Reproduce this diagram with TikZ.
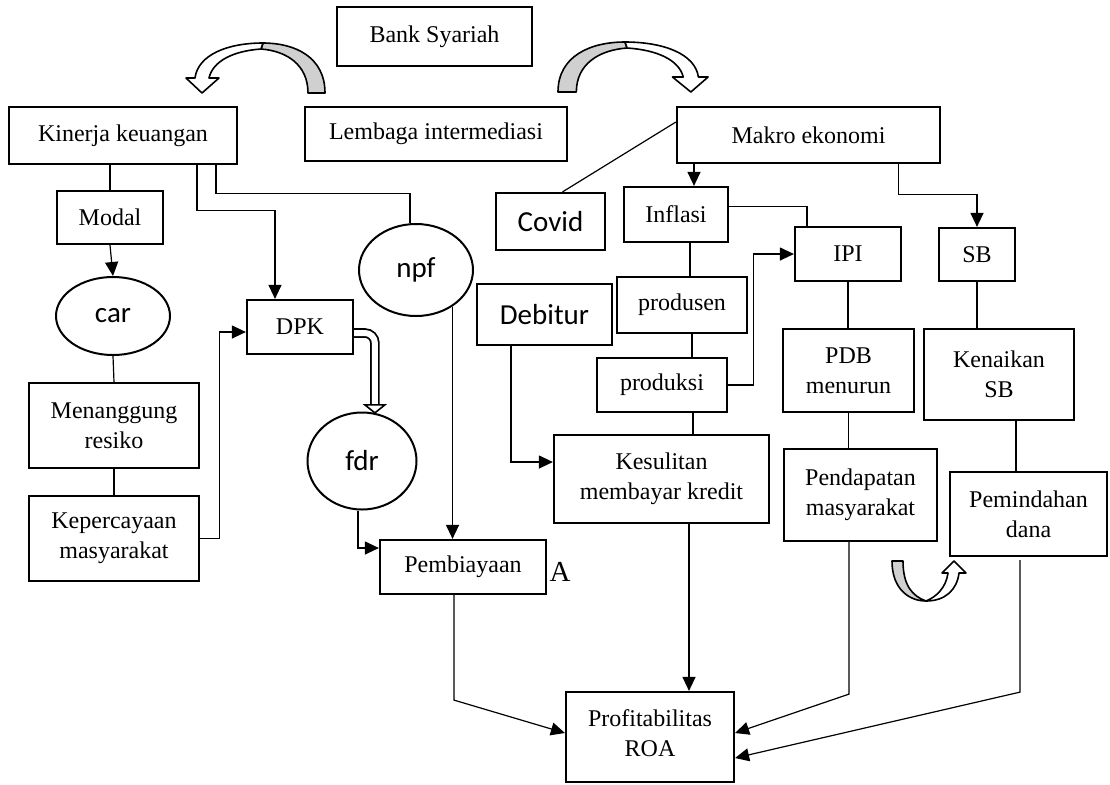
\documentclass[tikz,border=0pt]{standalone}
\usepackage{fontspec}
\setmainfont{Liberation Serif}
\newfontfamily\calfont{Carlito}
\usetikzlibrary{arrows.meta, positioning, shapes.geometric}
\definecolor{tailgray}{RGB}{208,208,208}

% hollow bent arrow, tail at the origin, head towards +x
\def\bendarrow{%
  \filldraw[fill=tailgray] (0,0) .. controls (0,-36) and (30,-50) .. (62,-50)
    -- (64,-44) .. controls (38,-42) and (17,-28) .. (17,0) -- cycle;
  \filldraw[fill=white] (62,-50) .. controls (98,-50) and (127,-38) .. (130,-15)
    -- (139,-15) -- (123,0) -- (106,-15) -- (116,-15)
    .. controls (112,-32) and (92,-42) .. (64,-44) -- cycle;
}

\begin{document}
\begin{tikzpicture}[x=0.5pt, y=-0.5pt]

  \tikzset{
    box/.style = {
      rectangle, draw, line width=1.1pt, align=center, inner sep=2pt,
      font=\fontsize{12pt}{15pt}\selectfont
    },
    calbox/.style = {
      box, font=\calfont\fontsize{14.5pt}{17pt}\selectfont
    },
    bubble/.style = {
      ellipse, draw, line width=1pt, inner sep=0pt,
      font=\calfont\fontsize{14.5pt}{17pt}\selectfont
    },
    sz/.style 2 args = {minimum width=#1pt, minimum height=#2pt},
    flow/.style = {-{Triangle[length=7pt, width=6.5pt]}, line width=0.6pt},
    link/.style = {line width=0.6pt},
    dbl/.style = {double, double distance=3pt, line width=0.9pt, rounded corners=5pt},
    band/.style = {line width=0.8pt, line join=round}
  }

  \useasboundingbox (0,0) rectangle (1110,784);

  % --- Top row ---------------------------------------------------------------
  \node (bank)    [box, sz={97.5}{29.5}]  at (434.5,36.5) {Bank Syariah};
  \node (lembaga) [box, sz={131}{27}]     at (436,134)    {Lembaga intermediasi};
  \node (kinerja) [box, sz={114}{28.5}]   at (123,135.5)  {Kinerja keuangan};
  \node (makro)   [box, sz={131.5}{28}]   at (808.5,135)  {Makro ekonomi};

  \begin{scope}[band, shift={(325,93)}, xscale=-1]
    \bendarrow
  \end{scope}
  \begin{scope}[band, shift={(558,92)}, xscale=1.08]
    \bendarrow
  \end{scope}

  % --- Kinerja keuangan side -------------------------------------------------
  \node (modal)       [box, sz={53}{26.5}]    at (110,217.5) {Modal};
  \node (car)         [bubble, sz={57}{39}]   at (113,316)   {car};
  \node (menanggung)  [box, sz={85}{42.5}]    at (114,425.5) {Menanggung\\resiko};
  \node (kepercayaan) [box, sz={85}{42.5}]    at (114,538.5) {Kepercayaan\\masyarakat};
  \node (dpk)         [box, sz={53}{27}]      at (300,327)   {DPK};
  \node (npf)         [bubble, sz={57}{46}]   at (416,270)   {npf};
  \node (fdr)         [bubble, sz={54.5}{48.5}] at (362,461) {fdr};
  \node (pembiayaan)  [box, sz={83}{27}]      at (463,567)   {Pembiayaan};
  \node (markA) [right=1pt of pembiayaan, yshift=-2.5pt, inner sep=0pt,
                 font=\fontsize{14.5pt}{17pt}\selectfont] {A};

  % --- Makro ekonomi side ----------------------------------------------------
  \node (covid)      [calbox, sz={54.5}{28.5}] at (550.5,221.5) {Covid};
  \node (debitur)    [calbox, sz={67.5}{30.5}] at (544.5,314.5) {Debitur};
  \node (inflasi)    [box, sz={52}{27.5}]   at (676,214.5)  {Inflasi};
  \node (produsen)   [box, sz={65}{28}]     at (682,305)    {produsen};
  \node (produksi)   [box, sz={65}{27}]     at (662,385)    {produksi};
  \node (ipi)        [box, sz={53}{27}]     at (848,254)    {IPI};
  \node (sb)         [box, sz={38}{26.5}]   at (977,254.5)  {SB};
  \node (pdb)        [box, sz={65.5}{41.5}] at (848.5,370.5) {PDB\\menurun};
  \node (kenaikan)   [box, sz={75}{45.5}]   at (999,374.5)  {Kenaikan\\SB};
  \node (kesulitan)  [box, sz={107.5}{44}]  at (661.5,479)  {Kesulitan\\membayar kredit};
  \node (pendapatan) [box, sz={76.5}{46}]   at (860.5,495)  {Pendapatan\\masyarakat};
  \node (pemindahan) [box, sz={78.5}{42}]   at (1028.5,514) {Pemindahan\\dana};
  \node (profit)     [box, sz={84}{45}]     at (650,737)
    {\parbox[c][40pt][t]{80pt}{\centering\vspace*{6.5pt}Profitabilitas\\ROA}};

  % U-turn arrow below Pendapatan
  \filldraw[band, fill=tailgray] (892,561) .. controls (892,590) and (910,601) .. (926,601)
    .. controls (912,596) and (903,585) .. (903,561) -- cycle;
  \filldraw[band, fill=white] (926,601) .. controls (945,601) and (957,590) .. (959,573)
    -- (966,573) -- (954,561) -- (942,573) -- (948,573)
    .. controls (946,588) and (936,597) .. (926,601) -- cycle;

  % --- Connectors: left ------------------------------------------------------
  \draw [link] (modal.north) -- (modal.north |- kinerja.south);
  \draw [flow] (modal.south) -- (car.north);
  \draw [link] (car.south) -- (menanggung.north);
  \draw [link] (menanggung.south) -- (kepercayaan.north);
  \draw [flow] (kepercayaan.east) -- ++(19,0) |- ([yshift=-2.5pt]dpk.west);
  \draw [flow] ([xshift=37pt]kinerja.south) -- ++(0,45) -| ([xshift=-12.5pt]dpk.north);
  \draw [link] ([xshift=46.5pt]kinerja.south) -- ++(0,28) -| ([xshift=-3pt]npf.north);
  \draw [flow] (npf.-45) -- (npf.-45 |- pembiayaan.north);
  \draw [flow] ([xshift=-2pt]fdr.south) |- ([yshift=9.5pt]pembiayaan.west);
  \draw [dbl]  ([yshift=-3pt]dpk.east) -| ([yshift=4pt]fdr.75);
  \filldraw [fill=white, line width=0.8pt] (fdr.75) -- ++(-10,-8) -- ++(20,0) -- cycle;
  \draw [flow] ([xshift=-4.5pt]pembiayaan.south) -- ++(0,105) -- ([yshift=2pt]profit.west);

  % --- Connectors: right -----------------------------------------------------
  \draw [flow] ([xshift=9pt]inflasi.north |- makro.south) -- ([xshift=9pt]inflasi.north);
  \draw [link] ([xshift=6pt]covid.north) -- ([yshift=6.5pt]makro.west);
  \draw [link] ([yshift=4pt]inflasi.east) -| ([xshift=-20.5pt]ipi.north);
  \draw [link] ([xshift=4pt]produsen.north) -- ([xshift=4pt]produsen.north |- inflasi.south);
  \draw [link] ([xshift=5pt]produsen.south) -- ([xshift=5pt]produsen.south |- produksi.north);
  \draw [flow] (produksi.east) -- ++(25,0) |- (ipi.west);
  \draw [link] ([xshift=15.5pt]produksi.south) -- ([xshift=15.5pt]produksi.south |- kesulitan.north);
  \draw [flow] ([xshift=-16.75pt]debitur.south) |- ([yshift=8.5pt]kesulitan.west);
  \draw [flow] ([xshift=13.75pt]kesulitan.south) -- ([xshift=13.75pt]kesulitan.south |- profit.north);
  \draw [flow] ([xshift=45pt]makro.south) -- ++(0,30) -| (sb.north);
  \draw [link] (ipi.south) -- (ipi.south |- pdb.north);
  \draw [link] (sb.south) -- (sb.south |- kenaikan.north);
  \draw [link] (pdb.south) -- (pdb.south |- pendapatan.north);
  \draw [link] ([xshift=8.5pt]kenaikan.south) -- ([xshift=8.5pt]kenaikan.south |- pemindahan.north);
  \draw [flow] ([xshift=-5.75pt]pendapatan.south) -- ++(0,152) -- ([yshift=2pt]profit.east);
  \draw [flow] ([xshift=-4.25pt, yshift=-1.5pt]pemindahan.south) -- ++(0,132)
    -- ([yshift=-10.5pt]profit.east);

\end{tikzpicture}
\end{document}
